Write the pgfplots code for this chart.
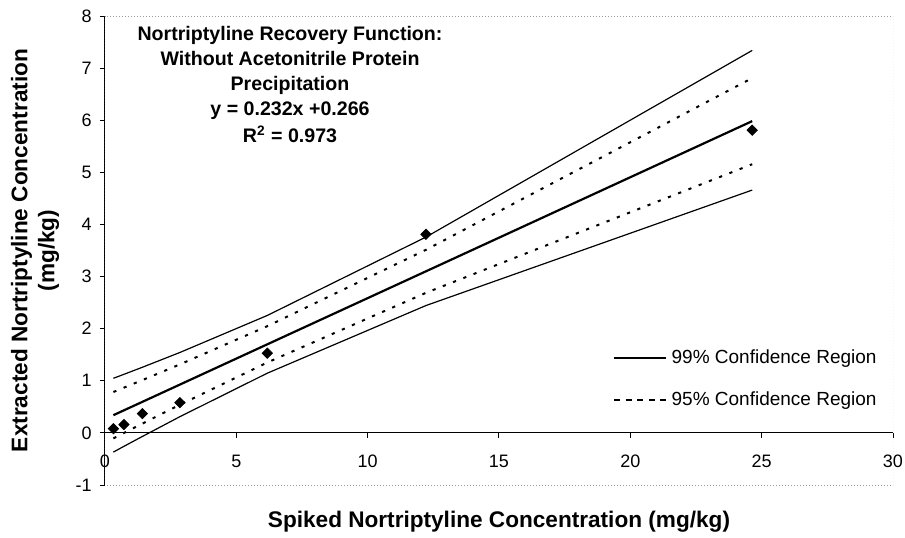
\documentclass[border=0pt]{standalone}
\usepackage{fontspec}
\setmainfont{Liberation Sans}
\usepackage{pgfplots}
\pgfplotsset{compat=1.18}
\begin{document}
\begin{tikzpicture}
\begin{axis}[
  scale only axis, width=394pt, height=234.5pt,
  xmin=0, xmax=30, ymin=-1, ymax=8,
  axis x line=middle, axis y line=left,
  axis line style={-, black, line width=0.5pt},
  hide obscured x ticks=false, hide obscured y ticks=false,
  xtick={0,5,...,30}, ytick={-1,0,...,8},
  minor tick num=0,
  tick align=outside, major tick length=2.5pt,
  tick style={black, line width=0.5pt},
  /pgf/number format/assume math mode=true,
  ticklabel style={font=\fontsize{9}{10}\selectfont, inner sep=0pt},
  xticklabel style={anchor=north, yshift=-8.5pt},
  yticklabel style={anchor=east, xshift=-4pt},
  xlabel={Spiked Nortriptyline Concentration (mg/kg)},
  ylabel={Extracted Nortriptyline Concentration\\(mg/kg)},
  xlabel style={at={(axis description cs:0.5,-0.0896)}, anchor=base, inner sep=0pt,
    font=\bfseries\fontsize{11.3}{13}\selectfont},
  ylabel style={at={(axis description cs:-0.1199,0.5)}, rotate=0, anchor=north, inner sep=0pt,
    align=center, font=\bfseries\fontsize{11.3}{13.5}\selectfont},
  legend style={at={(axis description cs:0.6447,0.226)}, anchor=west, draw=none, fill=none,
    inner sep=0pt, row sep=12pt, font=\fontsize{9.5}{11}\selectfont,
    nodes={inner xsep=2.5pt, inner ysep=0pt, text height=7pt, text depth=2pt}},
  legend cell align=left,
  legend image code/.code={\draw[#1] (0pt,0pt) -- (26pt,0pt);},
]
\draw[gray!80, densely dotted, line width=0.5pt] (rel axis cs:0,0) rectangle (rel axis cs:1,1);

% 99% confidence region
\addplot[black, line width=0.6pt, forget plot] coordinates {
 (0.32,1.048) (0.72,1.124) (1.42,1.259) (2.85,1.543) (6.18,2.254) (12.22,3.758) (24.64,7.34)};
\addplot[black, line width=0.6pt, forget plot] coordinates {
 (0.32,-0.368) (0.72,-0.258) (1.42,-0.069) (2.85,0.311) (6.18,1.146) (12.22,2.444) (24.64,4.66)};
% 95% confidence region
\addplot[black, line width=1pt, dash pattern=on 1.6pt off 3.9pt, forget plot] coordinates {
 (0.32,0.785) (0.72,0.868) (1.42,1.013) (2.85,1.314) (6.18,2.048) (12.22,3.514) (24.64,6.809)};
\addplot[black, line width=1pt, dash pattern=on 1.6pt off 3.9pt, forget plot] coordinates {
 (0.32,-0.105) (0.72,-0.002) (1.42,0.178) (2.85,0.540) (6.18,1.351) (12.22,2.688) (24.64,5.156)};
% regression line
\addplot[black, line width=1.1pt, forget plot] coordinates {
 (0.32,0.340) (0.72,0.433) (1.42,0.595) (2.85,0.927) (6.18,1.700) (12.22,3.101) (24.64,5.983)};
% data
\addplot[only marks, mark=square*, mark size=1.8pt, mark options={rotate=45, fill=black, draw=black}, forget plot] coordinates {
 (0.32,0.08) (0.72,0.16) (1.42,0.37) (2.85,0.58) (6.18,1.53) (12.22,3.81) (24.64,5.81)};

\addlegendimage{black, line width=0.6pt}
\addlegendentry{99\% Confidence Region}
\addlegendimage{black, line width=0.6pt, dash pattern=on 3pt off 2.8pt}
\addlegendentry{95\% Confidence Region}

\node[anchor=north, align=center, inner sep=0pt, font=\bfseries\fontsize{9.8}{12.5}\selectfont]
  at (axis description cs:0.2348,0.9787)
  {Nortriptyline Recovery Function:\\Without Acetonitrile Protein\\Precipitation\\y = 0.232x +0.266\\[1pt]R\textsuperscript{2} = 0.973};
\end{axis}
\path (-52.5pt,-26pt) rectangle (400pt,242.5pt);
\end{tikzpicture}
\end{document}
